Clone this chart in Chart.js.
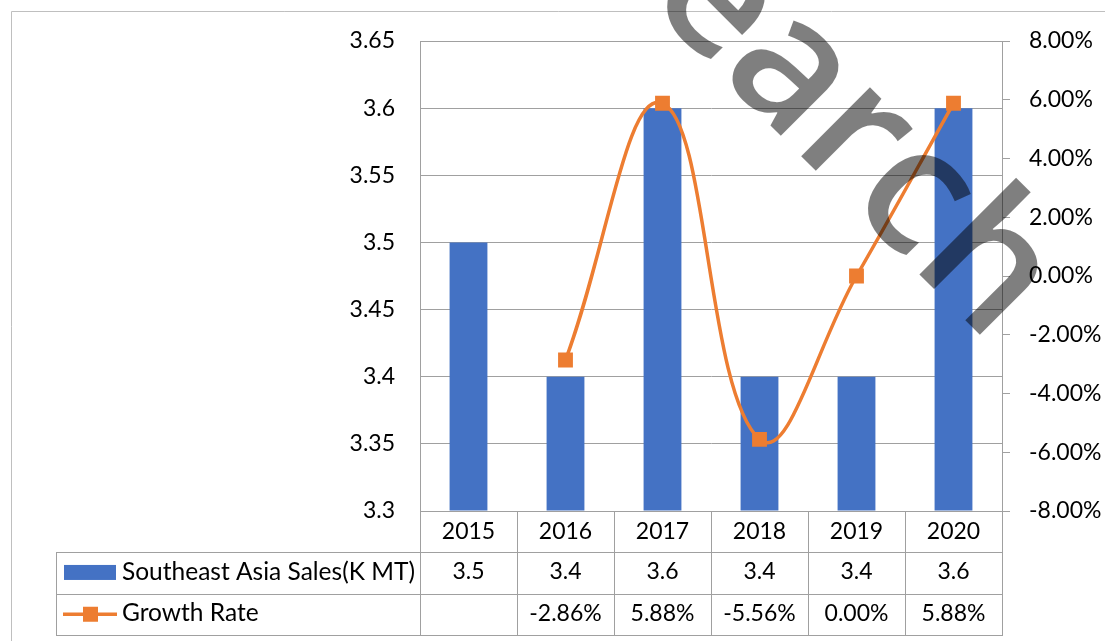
<!DOCTYPE html>
<html>
<head>
<meta charset="utf-8">
<script src="https://cdn.jsdelivr.net/npm/chart.js@4/dist/chart.umd.min.js"></script>
<style>
  body { margin: 0; background: #fff; }
  #wrap { position: relative; width: 1105px; height: 641px; }
</style>
</head>
<body>
<div id="wrap"><canvas id="salesChart"></canvas></div>
<script>
// Data
var years = ["2015", "2016", "2017", "2018", "2019", "2020"];
var salesValues = [3.5, 3.4, 3.6, 3.4, 3.4, 3.6];
var growthValues = [null, -2.86, 5.88, -5.56, 0.00, 5.88]; // percent
var salesLabel = "Southeast Asia Sales(K MT)";
var growthLabel = "Growth Rate";
var watermarkText = "research";
var salesAxis = { min: 3.3, max: 3.65, step: 0.05 };
var growthAxis = { min: -8, max: 8, step: 2 };

var blue = "#4472C4";
var orange = "#ED7D31";
var lineGray = "#a0a0a0";
var fontFamily = "Lato, 'Open Sans', sans-serif";

Chart.defaults.color = "#000";
Chart.defaults.font.family = fontFamily;
Chart.defaults.font.size = 23;

// Draws the outer frame, the data table under the plot and the watermark
var tablePlugin = {
    id: "dataTable",
    beforeDraw: function (chart) {
        var ctx = chart.ctx;
        ctx.save();
        ctx.strokeStyle = "#bfbfbf";
        ctx.lineWidth = 1;
        ctx.beginPath();
        ctx.moveTo(11.5, 641);
        ctx.lineTo(11.5, 11.5);
        ctx.lineTo(1105, 11.5);
        ctx.stroke();
        ctx.restore();
    },
    afterDraw: function (chart) {
        var ctx = chart.ctx;
        var area = chart.chartArea;
        var xs = chart.scales.x;
        var n = years.length;
        var colW = (area.right - area.left) / n;
        var rowH = 41.3;
        var legendLeft = 56;
        var r1 = area.bottom + rowH, r2 = r1 + rowH, r3 = r2 + rowH;

        ctx.save();
        ctx.strokeStyle = lineGray;
        ctx.lineWidth = 1;
        ctx.beginPath();
        // horizontal rows
        [r1, r2, r3].forEach(function (y) {
            y = Math.round(y) + 0.5;
            ctx.moveTo(legendLeft, y);
            ctx.lineTo(area.right, y);
        });
        // legend column left edge
        ctx.moveTo(legendLeft + 0.5, Math.round(r1));
        ctx.lineTo(legendLeft + 0.5, Math.round(r3) + 1);
        // category columns
        for (var i = 0; i <= n; i++) {
            var x = Math.round(area.left + i * colW) + 0.5;
            ctx.moveTo(x, area.bottom);
            ctx.lineTo(x, Math.round(r3) + 1);
        }
        ctx.stroke();

        // cell values
        ctx.fillStyle = "#000";
        ctx.font = "23px " + fontFamily;
        ctx.textAlign = "center";
        ctx.textBaseline = "middle";
        var c2 = (r1 + r2) / 2 - 1, c3 = (r2 + r3) / 2 - 1;
        for (var j = 0; j < n; j++) {
            var cx = xs.getPixelForValue(j);
            ctx.fillText(String(salesValues[j]), cx, c2);
            if (growthValues[j] !== null) {
                ctx.fillText(growthValues[j].toFixed(2) + "%", cx, c3);
            }
        }

        // legend keys
        ctx.fillStyle = blue;
        ctx.fillRect(64, c2 - 7, 52, 15);
        ctx.strokeStyle = orange;
        ctx.lineWidth = 3.5;
        ctx.beginPath();
        ctx.moveTo(63, c3 + 1);
        ctx.lineTo(117, c3 + 1);
        ctx.stroke();
        ctx.fillStyle = orange;
        ctx.fillRect(83, c3 - 6.5, 15, 15);
        ctx.fillStyle = "#000";
        ctx.textAlign = "left";
        ctx.font = "24.5px " + fontFamily;
        ctx.fillText(salesLabel, 122, c2);
        ctx.fillText(growthLabel, 122, c3);

        // watermark, placed so that the "h" starts at a fixed point
        ctx.font = "600 180px 'Open Sans', sans-serif";
        var lead = ctx.measureText(watermarkText.slice(0, -1)).width;
        ctx.translate(909, 264);
        ctx.rotate(Math.PI / 4);
        ctx.textAlign = "left";
        ctx.textBaseline = "alphabetic";
        ctx.fillStyle = "rgba(0, 0, 0, 0.5)";
        ctx.fillText(watermarkText, -lead, 0);
        ctx.restore();
    }
};

var ctx = document.getElementById("salesChart").getContext("2d");
var chart = new Chart(ctx, {
    data: {
        labels: years,
        datasets: [{
            type: "line",
            label: growthLabel,
            data: growthValues,
            yAxisID: "y1",
            borderColor: orange,
            backgroundColor: orange,
            borderWidth: 3.5,
            tension: 0.42,
            pointStyle: "rect",
            pointRadius: 10.5,
            pointBorderWidth: 0,
            order: 0
        }, {
            type: "bar",
            label: salesLabel,
            data: salesValues,
            yAxisID: "y",
            base: salesAxis.min,
            backgroundColor: blue,
            categoryPercentage: 1,
            barPercentage: 0.39,
            order: 1
        }]
    },
    options: {
        responsive: true,
        maintainAspectRatio: false,
        animation: false,
        layout: { padding: { top: 41, left: 0, right: 0, bottom: 0 } },
        plugins: {
            legend: { display: false },
            tooltip: { enabled: false }
        },
        scales: {
            x: {
                offset: true,
                grid: { display: false, drawTicks: false },
                border: { display: false },
                ticks: { padding: 7, maxRotation: 0 },
                afterFit: function (s) { s.height = 130; }
            },
            y: {
                position: "left",
                min: salesAxis.min,
                max: salesAxis.max,
                grid: { color: lineGray, drawTicks: false },
                border: { color: lineGray },
                ticks: {
                    stepSize: salesAxis.step,
                    padding: 25,
                    callback: function (v) { return String(+v.toFixed(2)); }
                },
                afterFit: function (s) { s.width = 420; }
            },
            y1: {
                position: "right",
                min: growthAxis.min,
                max: growthAxis.max,
                grid: { drawOnChartArea: false, color: lineGray, tickLength: 8 },
                border: { color: lineGray },
                ticks: {
                    stepSize: growthAxis.step,
                    padding: 19,
                    callback: function (v) { return v.toFixed(2) + "%"; }
                },
                afterFit: function (s) { s.width = 103; }
            }
        }
    },
    plugins: [tablePlugin]
});
</script>
</body>
</html>
